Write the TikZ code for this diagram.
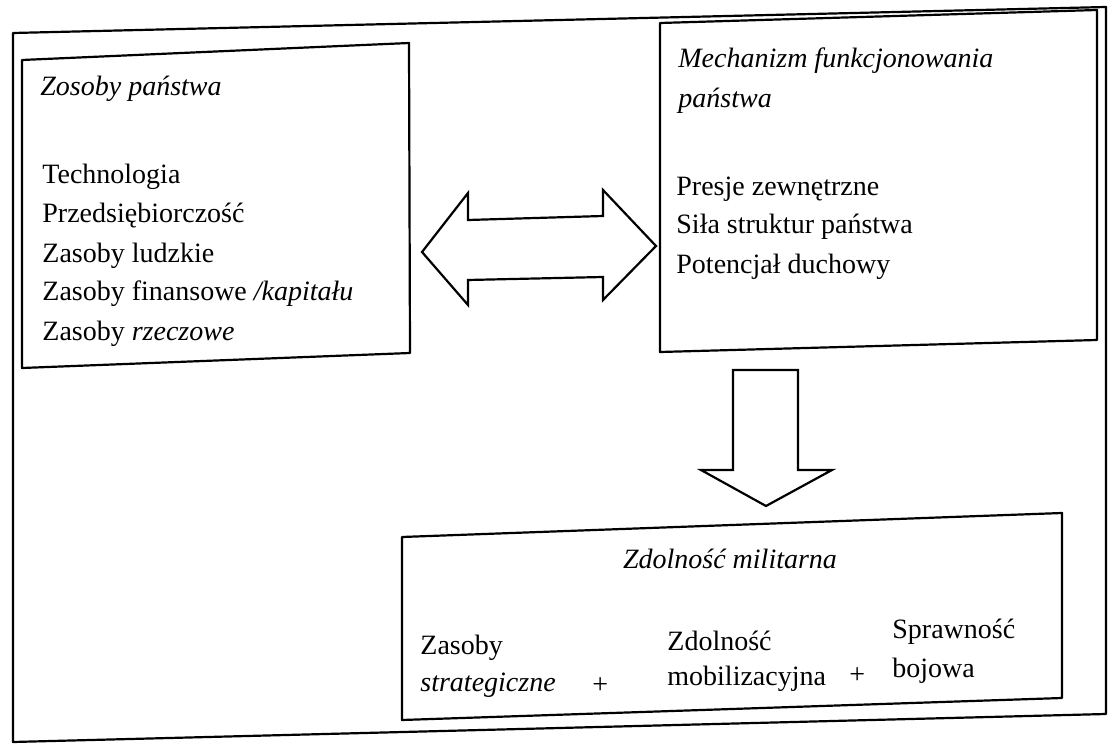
\documentclass[tikz,border=0pt]{standalone}
\usepackage{fontspec}
\setmainfont{Liberation Serif}

\tikzset{
  frame/.style={line width=1.1pt, line join=round},
  txt/.style={anchor=west, inner sep=0pt, font=\fontsize{14}{15}\selectfont},
  blockarrow/.style={line width=1.1pt, line join=miter}
}

\begin{document}
\begin{tikzpicture}[x=0.5pt,y=-0.5pt]
    \useasboundingbox (0,0) rectangle (1110,754);
    % Outer frame (scan is a little skewed)
    \draw[frame] (13,33) -- (1106,7) -- (1106,714) -- (13,742) -- cycle;

    % Zasoby panstwa
    \draw[frame] (22,60) -- (409,43) -- (410,353) -- (22,368) -- cycle;
    \node[txt] (zp) at (40,89) {\itshape Zosoby państwa};
    \node[txt] (z1) at (42,177) {Technologia};
    \node[txt] (z2) at (42,216) {Przedsiębiorczość};
    \node[txt] (z3) at (42,256) {Zasoby ludzkie};
    \node[txt] (z4) at (42,294) {Zasoby finansowe \textit{/kapitału}};
    \node[txt] (z5) at (42,334) {Zasoby \textit{rzeczowe}};

    % Mechanizm
    \draw[frame] (660,23) -- (1097,10) -- (1097,340) -- (660,352) -- cycle;
    \node[txt] (mf) at (678,61) {\itshape Mechanizm funkcjonowania};
    \node[txt] (mp) at (678,101) {\itshape państwa};
    \node[txt] (m1) at (676,189) {Presje zewnętrzne};
    \node[txt] (m2) at (676,227) {Siła struktur państwa};
    \node[txt] (m3) at (676,267) {Potencjał duchowy};

    % Zdolnosc militarna
    \draw[frame] (402,537) -- (1062,513) -- (1062,698) -- (402,720) -- cycle;
    \node[txt, anchor=center] (zm) at (730,559) {\itshape Zdolność militarna};
    \node[txt] (s1) at (420,648) {Zasoby};
    \node[txt] (s2) at (420,685) {\itshape strategiczne};
    \node[txt] (p1) at (592,686) {+};
    \node[txt] (s3) at (667,641) {Zdolność};
    \node[txt] (s4) at (667,679) {mobilizacyjna};
    \node[txt] (p2) at (849,676) {+};
    \node[txt] (s5) at (892,632) {Sprawność};
    \node[txt] (s6) at (892,671) {bojowa};

    % Block arrows
    \draw[blockarrow] (422,252) -- (468,193) -- (468,220) -- (603,216)
        -- (603,190) -- (656,246) -- (603,300) -- (603,277)
        -- (468,280) -- (468,305) -- cycle;
    \draw[blockarrow] (733,370) -- (798,370) -- (798,470) -- (832,470)
        -- (766,506) -- (701,470) -- (733,470) -- cycle;
\end{tikzpicture}
\end{document}
